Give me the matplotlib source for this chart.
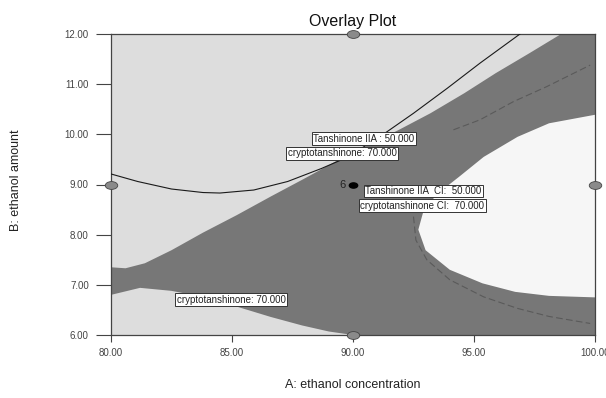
import matplotlib
matplotlib.use('Agg')
import matplotlib.pyplot as plt
import numpy as np
from matplotlib.path import Path
from matplotlib.transforms import Affine2D

plt.rcParams['font.family'] = ['Liberation Sans', 'DejaVu Sans']

# ---- data ----
x_ticks = [80, 85, 90, 95, 100]
y_ticks = [6, 7, 8, 9, 10, 11, 12]

# dark (feasible) band: upper and lower boundaries
band_up_x = [80, 80.6, 81.4, 82.5, 83.8, 85.2, 86.6, 88.0, 89.4, 91.9, 93.2, 94.6, 95.9, 97.3, 98.6, 100]
band_up_y = [7.35, 7.33, 7.43, 7.69, 8.04, 8.39, 8.76, 9.12, 9.49, 10.09, 10.42, 10.82, 11.22, 11.62, 12.0, 12.0]
band_lo_x = [80, 81.2, 82.5, 83.8, 85.1, 86.6, 87.9, 89.0, 90.0, 100]
band_lo_y = [6.80, 6.94, 6.88, 6.76, 6.58, 6.36, 6.19, 6.07, 6.0, 6.0]

# white region (right side)
white_x = [100, 98.1, 96.7, 95.35, 94.0, 93.0, 92.7, 92.9, 93.45, 94.4, 95.4, 96.8, 98.1, 100]
white_y = [6.75, 6.78, 6.86, 7.03, 7.30, 7.69, 8.1, 8.45, 8.8, 9.16, 9.55, 9.95, 10.22, 10.39]

# Tanshinone IIA : 50 contour (solid line)
tan_x = [80, 81.1, 82.5, 83.8, 84.5, 85.9, 87.3, 88.7, 89.8, 91.4, 92.5, 93.9, 95.25, 96.9]
tan_y = [9.21, 9.06, 8.91, 8.84, 8.83, 8.89, 9.06, 9.32, 9.55, 10.05, 10.42, 10.92, 11.42, 12.0]

# dashed CI contour, two visible pieces
dash_lo_x = [92.5, 92.6, 93.05, 94.0, 95.4, 96.8, 98.1, 99.8]
dash_lo_y = [8.36, 7.89, 7.50, 7.10, 6.76, 6.53, 6.37, 6.23]
dash_up_x = [94.15, 95.25, 96.62, 98.0, 99.8]
dash_up_y = [10.09, 10.29, 10.65, 10.95, 11.38]

# design points
design_x = [90, 80, 100, 90]
design_y = [12, 9, 9, 6]
center_x, center_y, center_label = 90, 9, '6'

# contour labels
labels = ['Tanshinone IIA : 50.000', 'cryptotanshinone: 70.000',
          'Tanshinone IIA  CI:  50.000', 'cryptotanshinone CI:  70.000',
          'cryptotanshinone: 70.000']
label_x = [90.44, 89.55, 92.91, 92.87, 84.97]
label_y = [9.91, 9.62, 8.87, 8.58, 6.70]

# ---- figure ----
fig = plt.figure(figsize=(6.06, 3.98), dpi=100)
ax = fig.add_axes([111/606, 1-335/398, 484/606, 301/398])
ax.set_xlim(80, 100)
ax.set_ylim(6, 12)
ax.set_facecolor('#dddddd')

ax.fill(band_up_x + band_lo_x[::-1], band_up_y + band_lo_y[::-1],
        color='#777777', lw=0, zorder=1)
ax.fill(white_x, white_y, color='#f6f6f6', lw=0, zorder=2)
ax.plot(tan_x, tan_y, color='#1a1a1a', lw=0.8, zorder=3)
ax.plot(dash_lo_x, dash_lo_y, color='#5a5a5a', lw=0.8, ls=(0, (6, 3)), zorder=3)
ax.plot(dash_up_x, dash_up_y, color='#5a5a5a', lw=0.8, ls=(0, (6, 3)), zorder=3)

ell = Path.unit_circle().transformed(Affine2D().scale(1.6, 1.0))
ax.plot(design_x, design_y, ls='none', marker=ell, ms=9, mfc='#8a8a8a',
        mec='#444444', mew=0.6, clip_on=False, zorder=6)
ax.plot([center_x], [center_y], ls='none', marker=ell, ms=6, mfc='black',
        mec='black', zorder=6)
ax.text(center_x - 0.3, center_y, center_label, fontsize=8, ha='right', va='center',
        color='#222222', zorder=6)

for t, lx, ly in zip(labels, label_x, label_y):
    ax.text(lx, ly, t, fontsize=7, ha='center', va='center', color='#222222', zorder=7,
            bbox=dict(boxstyle='square,pad=0.15', fc='white', ec='#333333', lw=0.7))

for s in ax.spines.values():
    s.set_color('#444444')
    s.set_linewidth(0.9)

ax.set_xticks(x_ticks)
ax.set_yticks(y_ticks)
ax.set_xticklabels(['%.2f' % v for v in x_ticks])
ax.set_yticklabels(['%.2f' % v for v in y_ticks])
ax.tick_params(axis='x', length=5, width=0.8, color='#444444', labelsize=7,
               labelcolor='#444444', pad=4)
ax.tick_params(axis='y', length=11, width=0.8, color='#444444', labelsize=7,
               labelcolor='#444444', pad=5)

ax.set_title('Overlay Plot', fontsize=11.5, color='#111111', pad=6)
fig.text(353/606, 1-385/398, 'A: ethanol concentration', fontsize=9, ha='center',
         va='center', color='#222222')
fig.text(16/606, 1-180/398, 'B: ethanol amount', fontsize=9, ha='center',
         va='center', rotation=90, color='#222222')

fig.savefig('out.png', dpi=100)
